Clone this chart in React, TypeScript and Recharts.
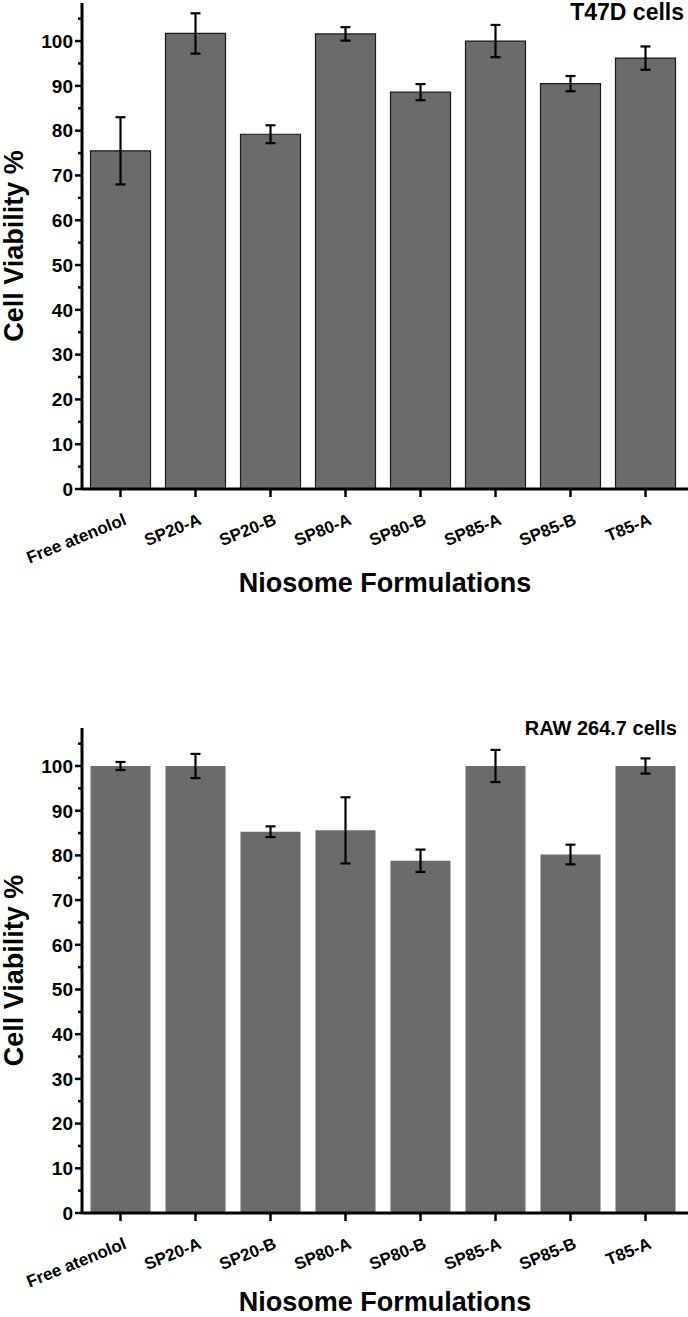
import { BarChart, Bar, XAxis, YAxis, ErrorBar } from "recharts";

const categories = [
  "Free atenolol",
  "SP20-A",
  "SP20-B",
  "SP80-A",
  "SP80-B",
  "SP85-A",
  "SP85-B",
  "T85-A",
];

// T47D cells (top panel)
const t47dViability = [75.5, 101.7, 79.2, 101.6, 88.6, 100.0, 90.5, 96.2];
const t47dError = [7.5, 4.5, 2.0, 1.5, 1.8, 3.6, 1.7, 2.6];

// RAW 264.7 cells (bottom panel)
const rawViability = [100.0, 100.0, 85.3, 85.6, 78.8, 100.0, 80.2, 100.0];
const rawError = [0.9, 2.7, 1.2, 7.4, 2.5, 3.6, 2.2, 1.7];

const yTicks = [0, 5, 10, 15, 20, 25, 30, 35, 40, 45, 50, 55, 60, 65, 70, 75, 80, 85, 90, 95, 100, 105];

const FONT = "'Liberation Sans', Arial, sans-serif";
const BAR_FILL = "#6b6b6b";

function YTick(props: any) {
  const { x, y, payload } = props;
  const major = payload.value % 10 === 0;
  return (
    <g>
      <line x1={x - (major ? 7 : 4)} x2={x} y1={y} y2={y} stroke="#000" strokeWidth={2.5} />
      {major && (
        <text
          x={x - 9}
          y={y}
          dy="0.36em"
          textAnchor="end"
          fontFamily={FONT}
          fontSize={19}
          fontWeight="bold"
          fill="#000"
        >
          {payload.value}
        </text>
      )}
    </g>
  );
}

function XTick(props: any) {
  const { x, y, payload } = props;
  const tx = x + 7;
  const ty = y + 35;
  return (
    <g>
      <line x1={x} x2={x} y1={y} y2={y + 8} stroke="#000" strokeWidth={2.5} />
      <text
        x={tx}
        y={ty}
        transform={`rotate(-22 ${tx} ${ty})`}
        textAnchor="end"
        fontFamily={FONT}
        fontSize={17}
        fontWeight="bold"
        fill="#000"
      >
        {payload.value}
      </text>
    </g>
  );
}

type PanelProps = {
  values: number[];
  errors: number[];
  title: string;
  titleSize: number;
  titleX: number;
  titleY: number;
  outlined: boolean;
  top: number;
  height: number;
  marginTop: number;
  xAxisHeight: number;
  xLabelOffset: number;
};

function Panel({
  values,
  errors,
  title,
  titleSize,
  titleX,
  titleY,
  outlined,
  top,
  height,
  marginTop,
  xAxisHeight,
  xLabelOffset,
}: PanelProps) {
  const data = categories.map((name, i) => ({ name, value: values[i], err: errors[i] }));
  const plotMid = (marginTop + (height - xAxisHeight)) / 2;
  return (
    <div style={{ position: "absolute", left: 0, top }}>
      <BarChart
        width={688}
        height={height}
        data={data}
        margin={{ top: marginTop, right: 0, bottom: 0, left: 0 }}
        barCategoryGap="10%"
      >
        <XAxis
          dataKey="name"
          height={xAxisHeight}
          padding={{ left: 1, right: 5 }}
          tick={<XTick />}
          tickLine={false}
          tickSize={0}
          tickMargin={0}
          interval={0}
          axisLine={{ stroke: "#000", strokeWidth: 3 }}
          label={{
            value: "Niosome Formulations",
            position: "insideBottom",
            offset: xLabelOffset,
            style: { fontFamily: FONT, fontSize: 27, fontWeight: "bold", fill: "#000" },
          }}
        />
        <YAxis
          width={82}
          domain={[0, 108.5]}
          ticks={yTicks}
          interval={0}
          tick={<YTick />}
          tickLine={false}
          tickSize={0}
          tickMargin={0}
          axisLine={{ stroke: "#000", strokeWidth: 3 }}
          allowDataOverflow
        />
        <Bar
          dataKey="value"
          fill={BAR_FILL}
          stroke={outlined ? "#1a1a1a" : "none"}
          strokeWidth={outlined ? 1.2 : 0}
          isAnimationActive={false}
        >
          <ErrorBar
            dataKey="err"
            direction="y"
            width={5}
            stroke="#000"
            strokeWidth={2.2}
            isAnimationActive={false}
          />
        </Bar>
        <text
          x={23}
          y={plotMid}
          transform={`rotate(-90 23 ${plotMid})`}
          textAnchor="middle"
          fontFamily={FONT}
          fontSize={27}
          fontWeight="bold"
          fill="#000"
        >
          Cell Viability %
        </text>
        <text
          x={titleX}
          y={titleY}
          textAnchor="end"
          fontFamily={FONT}
          fontSize={titleSize}
          fontWeight="bold"
          fill="#000"
        >
          {title}
        </text>
      </BarChart>
    </div>
  );
}

export default function App() {
  return (
    <div style={{ position: "absolute", left: 0, top: 0, width: 688, height: 1317, background: "#fff" }}>
      <Panel
        values={t47dViability}
        errors={t47dError}
        title="T47D cells"
        titleSize={23}
        titleX={684}
        titleY={20}
        outlined
        top={0}
        height={600}
        marginTop={3}
        xAxisHeight={111}
        xLabelOffset={8}
      />
      <Panel
        values={rawViability}
        errors={rawError}
        title="RAW 264.7 cells"
        titleSize={20}
        titleX={677}
        titleY={20}
        outlined={false}
        top={715}
        height={602}
        marginTop={13}
        xAxisHeight={104}
        xLabelOffset={6}
      />
    </div>
  );
}
